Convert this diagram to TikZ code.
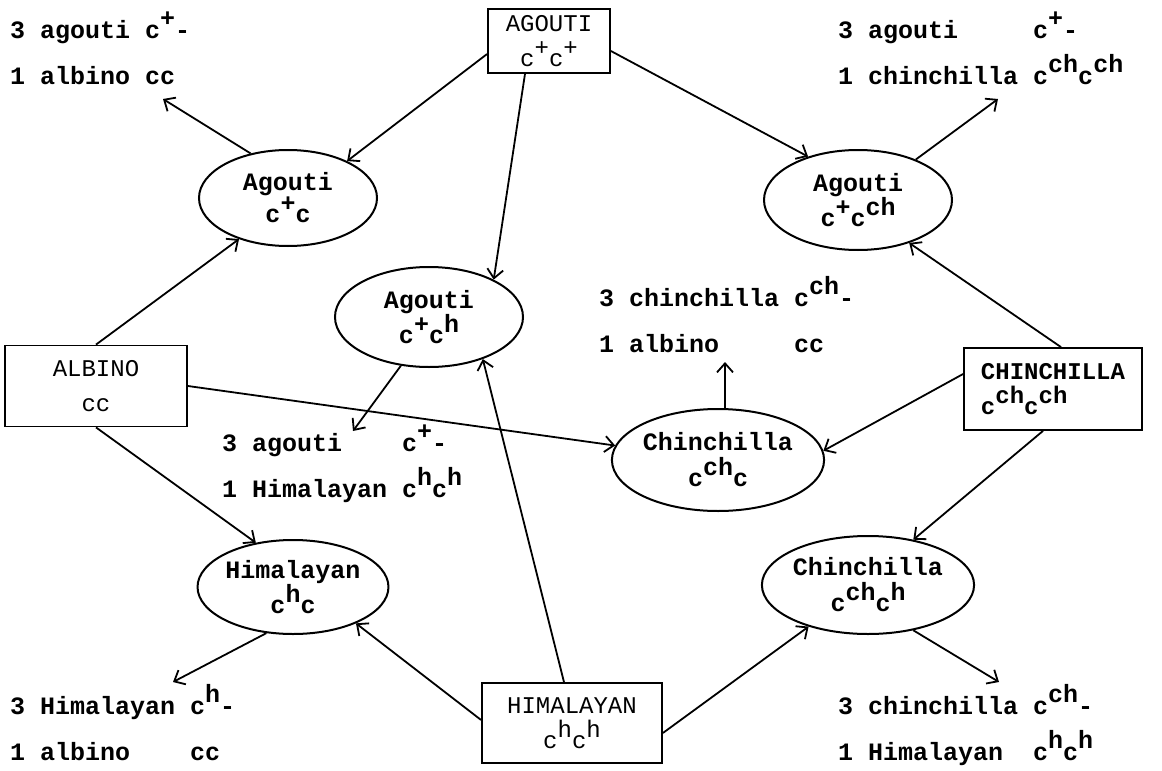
\documentclass[tikz,border=0pt]{standalone}
\usepackage{fontspec}
\newfontfamily\tw{Liberation Mono}
\usetikzlibrary{shapes.geometric,arrows.meta,calc}
\newcommand\hi[1]{\raisebox{0.45em}{#1}}
\begin{document}
\begin{tikzpicture}[x=1pt,y=-1pt,
  every node/.style={inner sep=0pt},
  oval/.style={draw, ellipse, line width=2pt, align=center,
    font=\tw\bfseries\fontsize{25}{32}\selectfont},
  ovaltall/.style={oval, font=\tw\bfseries\fontsize{25}{36}\selectfont},
  gbox/.style={draw, rectangle, line width=1.8pt, align=center,
    font=\tw\fontsize{24}{35}\selectfont},
  txt/.style={align=left, anchor=base west,
    font=\tw\bfseries\fontsize{25}{46}\selectfont},
  arr/.style={line width=1.8pt, -{Straight Barb[length=9pt,width=16pt,line width=1.8pt]}}
]
\useasboundingbox (0,0) rectangle (1162,771);
\fill[white] (0,0) rectangle (1162,771);

% boxes
\node[gbox, minimum width=122pt, minimum height=64pt] (AG) at (549,41) {AGOUTI\\c\hi{+}c\hi{+}};
\node[gbox, minimum width=182pt, minimum height=81pt] (AL) at (96,386) {ALBINO\\cc};
\node[gbox, minimum width=178pt, minimum height=82pt, align=left, font=\tw\bfseries\fontsize{24}{35}\selectfont] (CH) at (1053,389) {CHINCHILLA\\c\hi{ch}c\hi{ch}};
\node[gbox, minimum width=180pt, minimum height=80pt] (HI) at (572,723) {HIMALAYAN\\c\hi{h}c\hi{h}};

% ellipses
\node[oval, minimum width=178pt, minimum height=96pt] (EL1) at (288,198) {Agouti\\c\hi{+}c};
\node[oval, minimum width=188pt, minimum height=100pt] (EL2) at (858,200) {Agouti\\c\hi{+}c\hi{ch}};
\node[oval, minimum width=188pt, minimum height=100pt] (EL3) at (429,317) {Agouti\\c\hi{+}c\hi{h}};
\node[oval, minimum width=190pt, minimum height=94pt] (EL4) at (293,587) {Himalayan\\c\hi{h}c};
\node[ovaltall, minimum width=196pt, minimum height=102pt] (EL5) at (718,460) {Chinchilla\\c\hi{ch}c};
\node[ovaltall, minimum width=188pt, minimum height=98pt] (EL6) at (868,585) {Chinchilla\\c\hi{ch}c\hi{h}};

% result texts (anchor = baseline of the last line)
\node[txt] (TL) at (10,84) {3~agouti~c\hi{+}-\\1~albino~cc};
\node[txt] (TR) at (838,84) {3~agouti~~~~~c\hi{+}-\\1~chinchilla~c\hi{ch}c\hi{ch}};
\node[txt] (C1) at (222,497) {3~agouti~~~~c\hi{+}-\\1~Himalayan~c\hi{h}c\hi{h}};
\node[txt] (C2) at (599,352) {3~chinchilla~c\hi{ch}-\\1~albino~~~~~cc};
\node[txt] (BL) at (10,760) {3~Himalayan~c\hi{h}-\\1~albino~~~~cc};
\node[txt] (BR) at (838,760) {3~chinchilla~c\hi{ch}-\\1~Himalayan~~c\hi{h}c\hi{h}};

\coordinate (tTL) at (163,99);
\coordinate (tTR) at (998,99);
\coordinate (tC1) at (353,431);
\coordinate (tC2) at (725,362);
\coordinate (tBL) at (173,682);
\coordinate (tBR) at (999,682);

% connectors
\draw[arr] ($(AG.west)+(0,13)$) -- (EL1.32);
\draw[arr] ($(AG.east)+(0,10)$) -- (EL2.139);
\draw[arr] ($(AG.south)+(-24,0)$) -- (EL3.30);
\draw[arr] (EL1.130) -- (tTL);
\draw[arr] (EL2.35) -- (tTR);
\draw[arr] (AL.north) -- (EL1.220);
\draw[arr] (AL.east) -- (EL5.172);
\draw[arr] (AL.south) -- (EL4.130);
\draw[arr] (EL3.240) -- (tC1);
\draw[arr] ($(HI.north)+(-8,0)$) -- (EL3.-38);
\draw[arr] ($(HI.west)+(0,-3)$) -- (EL4.-30);
\draw[arr] ($(HI.east)+(0,10)$) -- (EL6.215);
\draw[arr] (EL4.240) -- (tBL);
\draw[arr] (EL6.-45) -- (tBR);
\draw[arr] ($(CH.north)+(8,0)$) -- (EL2.-40);
\draw[arr] ($(CH.west)+(0,-15)$) -- (EL5.5);
\draw[arr] ($(CH.south)+(-10,0)$) -- (EL6.45);
\draw[arr] (tC2 |- EL5.north) -- (tC2);
\end{tikzpicture}
\end{document}
